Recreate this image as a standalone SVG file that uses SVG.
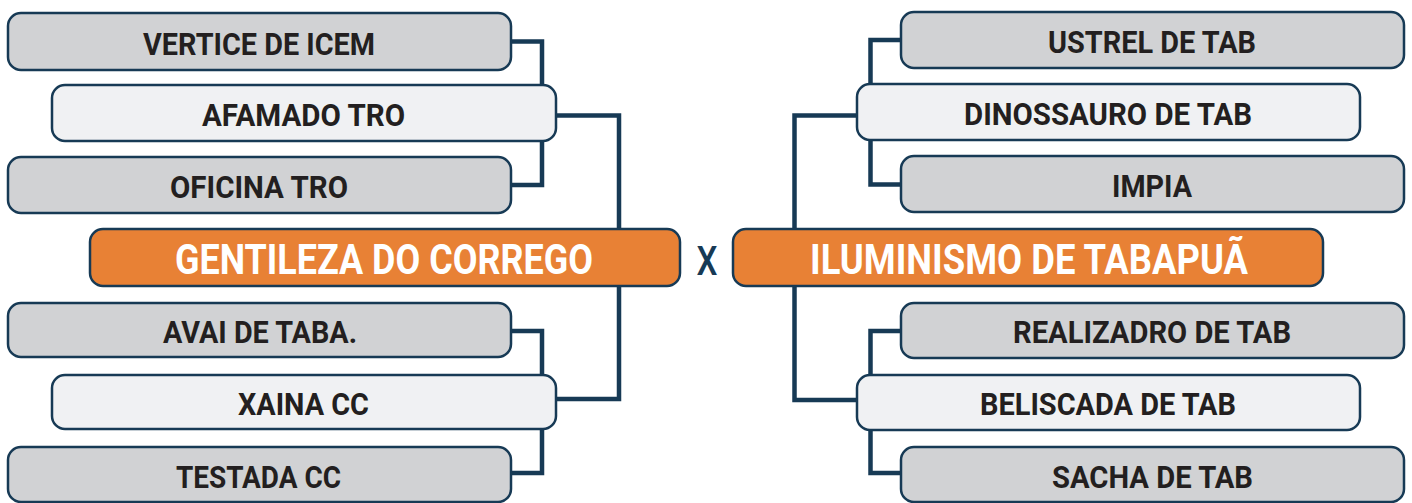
<svg xmlns="http://www.w3.org/2000/svg" width="1412" height="503" viewBox="0 0 1412 503">
<style>
.box{stroke:#173a55;stroke-width:2.5}
.g{fill:#d1d2d4}
.l{fill:#f0f1f3}
.o{fill:#e88135}
.t{font-family:Roboto,"Liberation Sans",sans-serif;font-weight:bold;font-size:31px;fill:#231f20;text-anchor:middle}
.ot{font-size:42px;fill:#ffffff}
.vs{font-family:Roboto,"Liberation Sans",sans-serif;font-weight:500;font-size:40px;fill:#173a55;text-anchor:middle}
.conn{fill:none;stroke:#173a55;stroke-width:4.5}
</style>
<rect width="1412" height="503" fill="#ffffff"/>
<g id="connectors">
<path class="conn" d="M511 41.5 H542 V185 H511"/>
<path class="conn" d="M556 115.5 H619 V399 H556"/>
<path class="conn" d="M511 331 H542 V473 H511"/>
<path class="conn" d="M901 40 H870.5 V184.5 H901"/>
<path class="conn" d="M857 115.5 H794.5 V400 H857"/>
<path class="conn" d="M901 331 H870.5 V473 H901"/>
</g>
<g id="vertice"><rect class="box g" x="8" y="13" width="503" height="57" rx="13"/><text class="t" x="259" y="55" textLength="232" lengthAdjust="spacingAndGlyphs">VERTICE DE ICEM</text></g>
<g id="afamado"><rect class="box l" x="52" y="85" width="504" height="56" rx="13"/><text class="t" x="303.5" y="126" textLength="203" lengthAdjust="spacingAndGlyphs">AFAMADO TRO</text></g>
<g id="oficina"><rect class="box g" x="8" y="157" width="503" height="56" rx="13"/><text class="t" x="259" y="198" textLength="178" lengthAdjust="spacingAndGlyphs">OFICINA TRO</text></g>
<g id="gentileza"><rect class="box o" x="90" y="229" width="590" height="57" rx="13"/><text class="t ot" x="384" y="274" textLength="418" lengthAdjust="spacingAndGlyphs">GENTILEZA DO CORREGO</text></g>
<g id="avai"><rect class="box g" x="8" y="303" width="503" height="54" rx="13"/><text class="t" x="260" y="343" textLength="194" lengthAdjust="spacingAndGlyphs">AVAI DE TABA.</text></g>
<g id="xaina"><rect class="box l" x="52" y="375" width="504" height="54" rx="13"/><text class="t" x="303.5" y="415" textLength="131" lengthAdjust="spacingAndGlyphs">XAINA CC</text></g>
<g id="testada"><rect class="box g" x="8" y="447" width="503" height="55" rx="13"/><text class="t" x="258.5" y="488" textLength="165" lengthAdjust="spacingAndGlyphs">TESTADA CC</text></g>
<g id="versus"><text class="vs" x="707" y="275" textLength="21" lengthAdjust="spacingAndGlyphs">X</text></g>
<g id="ustrel"><rect class="box g" x="901" y="12" width="503" height="56" rx="13"/><text class="t" x="1152" y="53" textLength="208" lengthAdjust="spacingAndGlyphs">USTREL DE TAB</text></g>
<g id="dinossauro"><rect class="box l" x="857" y="84" width="503" height="56" rx="13"/><text class="t" x="1108" y="125" textLength="288" lengthAdjust="spacingAndGlyphs">DINOSSAURO DE TAB</text></g>
<g id="impia"><rect class="box g" x="901" y="156" width="503" height="56" rx="13"/><text class="t" x="1152" y="197" textLength="80" lengthAdjust="spacingAndGlyphs">IMPIA</text></g>
<g id="iluminismo"><rect class="box o" x="733" y="229" width="590" height="57" rx="13"/><text class="t ot" x="1029" y="274" textLength="438" lengthAdjust="spacingAndGlyphs">ILUMINISMO DE TABAPUÃ</text></g>
<g id="realizadro"><rect class="box g" x="901" y="303" width="503" height="55" rx="13"/><text class="t" x="1152" y="343" textLength="278" lengthAdjust="spacingAndGlyphs">REALIZADRO DE TAB</text></g>
<g id="beliscada"><rect class="box l" x="857" y="375" width="503" height="55" rx="13"/><text class="t" x="1108" y="415" textLength="256" lengthAdjust="spacingAndGlyphs">BELISCADA DE TAB</text></g>
<g id="sacha"><rect class="box g" x="901" y="447" width="503" height="55" rx="13"/><text class="t" x="1152.5" y="488" textLength="201" lengthAdjust="spacingAndGlyphs">SACHA DE TAB</text></g>
</svg>
